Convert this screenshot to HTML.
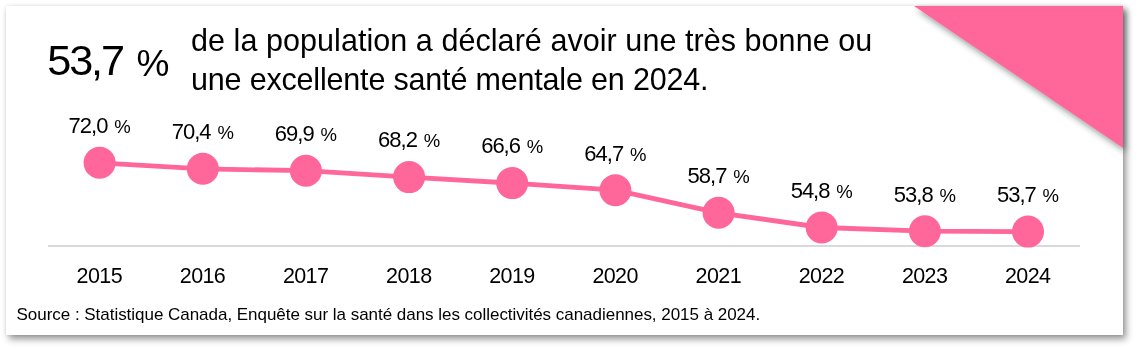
<!DOCTYPE html>
<html><head><meta charset="utf-8"><style>
html,body{margin:0;padding:0;background:#fff;width:1140px;height:350px;overflow:hidden}
body{position:relative;font-family:"Liberation Sans",sans-serif;color:#000}
.card{position:absolute;left:6px;top:6px;width:1117px;height:328.6px;background:#fff;box-shadow:0 0 3px rgba(0,0,0,.09),3px 4px 7px rgba(0,0,0,.42)}
.t{position:absolute;white-space:nowrap;line-height:1}
.txt{position:absolute;left:0;top:0;width:1140px;height:350px;will-change:transform}
.lbl{position:absolute;width:120px;text-align:center;font-size:22px;letter-spacing:-1.0px;line-height:1;white-space:nowrap}
.lbl .p{font-size:18.5px;margin-left:6.8px;letter-spacing:0}
.yr{position:absolute;width:120px;text-align:center;font-size:21.5px;letter-spacing:-0.6px;text-indent:-0.6px;line-height:1}
svg{position:absolute;left:0;top:0}
</style></head><body>
<div class="card"></div>
<svg width="1140" height="350" viewBox="0 0 1140 350">
<defs><filter id="ds" x="-20%" y="-20%" width="150%" height="150%"><feDropShadow dx="2.5" dy="3.5" stdDeviation="3.2" flood-color="#1c2e2e" flood-opacity="0.48"/></filter></defs>
<polygon points="914,6 1123,6 1123,148" fill="#ff6699" filter="url(#ds)"/>
<rect x="48" y="245" width="1032" height="2" fill="#d9d9d9"/>
<polyline points="99.6,162.8 202.8,168.8 305.9,170.7 409.1,177.1 512.2,183.1 615.4,190.2 718.6,212.8 821.7,227.5 924.9,231.2 1028.0,231.6" fill="none" stroke="#ff6699" stroke-width="4.8"/>
<g fill="#ff6699">
<circle cx="99.6" cy="162.8" r="16"/>
<circle cx="202.8" cy="168.8" r="16"/>
<circle cx="305.9" cy="170.7" r="16"/>
<circle cx="409.1" cy="177.1" r="16"/>
<circle cx="512.2" cy="183.1" r="16"/>
<circle cx="615.4" cy="190.2" r="16"/>
<circle cx="718.6" cy="212.8" r="16"/>
<circle cx="821.7" cy="227.5" r="16"/>
<circle cx="924.9" cy="231.2" r="16"/>
<circle cx="1028.0" cy="231.6" r="16"/>
</g>
</svg>
<div class="txt">
<div class="t" style="left:47.3px;top:39.0px;font-size:43.3px;letter-spacing:-2.2px">53,7</div>
<div class="t" style="left:136.5px;top:45.1px;font-size:37px">%</div>
<div class="t" style="left:191px;top:25.0px;font-size:30.5px;letter-spacing:0.06px">de la population a déclaré avoir une très bonne ou</div>
<div class="t" style="left:191px;top:64.0px;font-size:30.5px;letter-spacing:-0.18px">une excellente santé mentale en 2024.</div>
<div class="lbl" style="left:39.6px;top:115.1px">72,0<span class="p">%</span></div><div class="lbl" style="left:142.8px;top:121.1px">70,4<span class="p">%</span></div><div class="lbl" style="left:245.9px;top:123.0px">69,9<span class="p">%</span></div><div class="lbl" style="left:349.1px;top:129.3px">68,2<span class="p">%</span></div><div class="lbl" style="left:452.2px;top:135.4px">66,6<span class="p">%</span></div><div class="lbl" style="left:555.4px;top:142.5px">64,7<span class="p">%</span></div><div class="lbl" style="left:658.6px;top:165.1px">58,7<span class="p">%</span></div><div class="lbl" style="left:761.7px;top:179.7px">54,8<span class="p">%</span></div><div class="lbl" style="left:864.9px;top:183.5px">53,8<span class="p">%</span></div><div class="lbl" style="left:968.0px;top:183.9px">53,7<span class="p">%</span></div>
<div class="yr" style="left:39.6px;top:265.5px">2015</div><div class="yr" style="left:142.8px;top:265.5px">2016</div><div class="yr" style="left:245.9px;top:265.5px">2017</div><div class="yr" style="left:349.1px;top:265.5px">2018</div><div class="yr" style="left:452.2px;top:265.5px">2019</div><div class="yr" style="left:555.4px;top:265.5px">2020</div><div class="yr" style="left:658.6px;top:265.5px">2021</div><div class="yr" style="left:761.7px;top:265.5px">2022</div><div class="yr" style="left:864.9px;top:265.5px">2023</div><div class="yr" style="left:968.0px;top:265.5px">2024</div>
<div class="t" style="left:16.5px;top:305.5px;font-size:17px;letter-spacing:-0.03px">Source : Statistique Canada, Enquête sur la santé dans les collectivités canadiennes, 2015 à 2024.</div>
</div>
</body></html>
